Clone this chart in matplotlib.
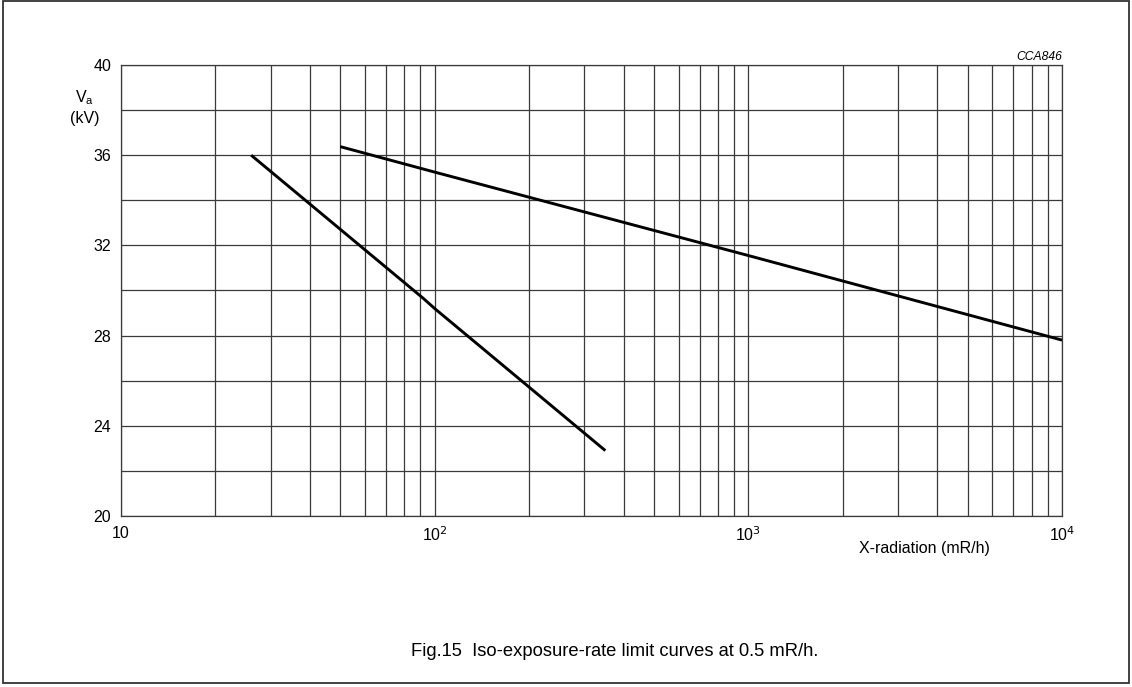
import numpy as np
import matplotlib
matplotlib.use('Agg')
import matplotlib.pyplot as plt
from matplotlib.ticker import FixedLocator, NullFormatter, LogLocator
from matplotlib.patches import Rectangle

plt.rcParams['font.family'] = ['Liberation Sans', 'DejaVu Sans']

# curves: X-radiation (mR/h) vs Va (kV)
x_low = [26, 92, 100, 350]
va_low = [36.0, 29.65, 29.2, 22.9]

x_high = [50, 100, 1000, 10000]
va_high = [36.38, 35.25, 31.55, 27.8]

y_major = [20, 24, 28, 32, 36, 40]
y_minor = [22, 26, 30, 34, 38]
x_major = [10, 100, 1000, 10000]
x_labels = ['10', '10$^2$', '10$^3$', '10$^4$']

fig = plt.figure(figsize=(11.32, 6.87), dpi=100)
ax = fig.add_axes([0.1069, 0.2489, 0.8313, 0.6565])

gridcol = '#3a3a3a'
ax.plot(x_low, va_low, color='black', lw=2.1, solid_capstyle='butt', zorder=3)
ax.plot(x_high, va_high, color='black', lw=2.1, solid_capstyle='butt', zorder=3)

ax.set_xscale('log')
ax.set_xlim(10, 10000)
ax.set_ylim(20, 40)

ax.xaxis.set_major_locator(FixedLocator(x_major))
ax.set_xticklabels(x_labels)
ax.xaxis.set_minor_locator(LogLocator(base=10, subs=np.arange(2, 10)))
ax.xaxis.set_minor_formatter(NullFormatter())
ax.yaxis.set_major_locator(FixedLocator(y_major))
ax.yaxis.set_minor_locator(FixedLocator(y_minor))

ax.grid(which='both', color=gridcol, lw=0.9)
ax.set_axisbelow(True)
ax.tick_params(which='both', length=0)
ax.tick_params(axis='x', pad=7, labelsize=11.5)
ax.tick_params(axis='y', pad=7, labelsize=11.5)
for s in ax.spines.values():
    s.set_color(gridcol)
    s.set_linewidth(0.9)

# axis titles placed like the datasheet
fig.text(85 / 1132, 1 - 98 / 687, r'V$_\mathregular{a}$', ha='center', va='center', fontsize=11.5)
fig.text(85 / 1132, 1 - 119 / 687, '(kV)', ha='center', va='center', fontsize=11.5)
fig.text(990 / 1132, 1 - 549 / 687, 'X-radiation (mR/h)', ha='right', va='center', fontsize=11.5)
fig.text(1062 / 1132, 1 - 57 / 687, 'CCA846', ha='right', va='center', fontsize=8.7, style='italic')

fig.text(615 / 1132, 1 - 651 / 687, 'Fig.15  Iso-exposure-rate limit curves at 0.5 mR/h.',
         ha='center', va='center', fontsize=13.2)

# frame around the whole figure
fig.patches.append(Rectangle((3 / 1132, 4 / 687), 1126 / 1132, 682 / 687,
                             transform=fig.transFigure, fill=False, lw=1.3, ec='#333333'))

fig.savefig('out.png', dpi=100)
